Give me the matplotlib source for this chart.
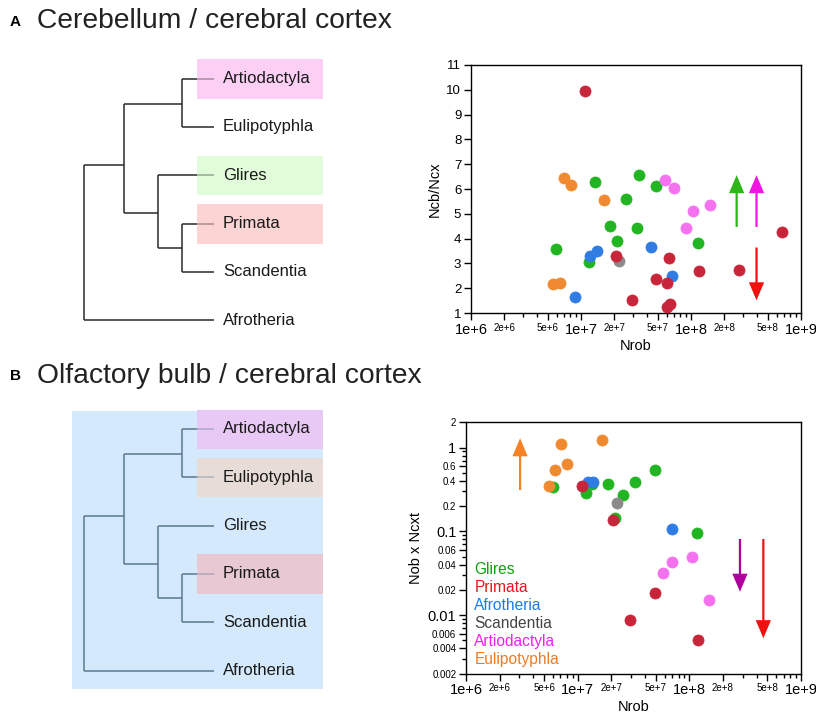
import matplotlib
matplotlib.use("Agg")
import matplotlib.pyplot as plt
import numpy as np
from matplotlib.patches import Rectangle
from matplotlib.ticker import FixedLocator, NullFormatter

plt.rcParams['font.family'] = ['Liberation Sans', 'DejaVu Sans']

# --- data ---
groups = ["Glires", "Primata", "Afrotheria", "Scandentia", "Artiodactyla", "Eulipotyphla"]
dot_colors = {"Glires": "#22b522", "Primata": "#c8253a", "Afrotheria": "#2f7de3",
              "Scandentia": "#8a8a8a", "Artiodactyla": "#f472f0", "Eulipotyphla": "#f08a30"}
text_colors = {"Glires": "#119e11", "Primata": "#e8141e", "Afrotheria": "#1f78ee",
               "Scandentia": "#444444", "Artiodactyla": "#f020ee", "Eulipotyphla": "#f07a22"}

# panel A: Nrob vs Ncb/Ncx
cb_nrob = {
    "Primata": [1.08e7, 2.06e7, 6.36e7, 4.81e7, 6.0e7, 2.91e7, 6.0e7, 6.4e7, 1.19e8, 2.71e8, 6.74e8],
    "Glires": [5.96e6, 1.19e7, 1.33e7, 1.82e7, 2.14e7, 2.57e7, 3.24e7, 3.35e7, 4.78e7, 1.16e8],
    "Afrotheria": [8.9e6, 1.22e7, 1.39e7, 4.34e7, 6.76e7],
    "Scandentia": [2.2e7],
    "Artiodactyla": [5.77e7, 7.02e7, 9.0e7, 1.04e8, 1.48e8],
    "Eulipotyphla": [7.03e6, 8.09e6, 1.63e7, 5.55e6, 6.38e6],
}
cb_ratio = {
    "Primata": [9.95, 3.31, 3.23, 2.37, 2.22, 1.51, 1.24, 1.38, 2.70, 2.75, 4.26],
    "Glires": [3.60, 3.05, 6.28, 4.50, 3.89, 5.58, 4.41, 6.57, 6.11, 3.83],
    "Afrotheria": [1.63, 3.31, 3.48, 3.66, 2.49],
    "Scandentia": [3.10],
    "Artiodactyla": [6.37, 6.05, 4.42, 5.13, 5.35],
    "Eulipotyphla": [6.46, 6.17, 5.55, 2.17, 2.20],
}

# panel B: Nrob vs Nob x Ncxt
ob_nrob = {
    "Eulipotyphla": [5.5e6, 6.22e6, 7.1e6, 8.0e6, 1.64e7],
    "Glires": [6.05e6, 1.18e7, 1.35e7, 1.85e7, 2.56e7, 3.26e7, 4.93e7, 2.16e7, 1.16e8],
    "Afrotheria": [1.23e7, 1.36e7, 6.95e7],
    "Primata": [1.09e7, 2.06e7, 4.93e7, 2.92e7, 1.2e8],
    "Scandentia": [2.23e7],
    "Artiodactyla": [5.85e7, 7.05e7, 1.05e8, 1.49e8],
}
ob_val = {
    "Eulipotyphla": [0.347, 0.54, 1.09, 0.637, 1.23],
    "Glires": [0.341, 0.284, 0.364, 0.367, 0.272, 0.385, 0.54, 0.143, 0.0964],
    "Afrotheria": [0.392, 0.385, 0.107],
    "Primata": [0.351, 0.137, 0.0185, 0.0088, 0.0051],
    "Scandentia": [0.216],
    "Artiodactyla": [0.032, 0.0435, 0.0498, 0.0151],
}
draw_order_a = ["Eulipotyphla", "Glires", "Afrotheria", "Scandentia", "Primata", "Artiodactyla"]
draw_order_b = ["Glires", "Afrotheria", "Scandentia", "Primata", "Eulipotyphla", "Artiodactyla"]

# arrows: (x, y_tail, y_head, colour)
arrows_a = [(2.6e8, 4.47, 6.56, "#2eb51a"), (3.94e8, 4.47, 6.56, "#ee16e0"), (3.94e8, 3.64, 1.51, "#f01010")]
arrows_b = [(3.05e6, 0.311, 1.29, "#f58225"), (2.84e8, 0.081, 0.019, "#b0009e"), (4.6e8, 0.081, 0.0053, "#f01010")]

leaves = ["Artiodactyla", "Eulipotyphla", "Glires", "Primata", "Scandentia", "Afrotheria"]
hl_a = {"Artiodactyla": "#fcd0f4", "Glires": "#e0fcd8", "Primata": "#fcd4d4"}
hl_b = {"Artiodactyla": "#e8c8f4", "Eulipotyphla": "#e8dcd6", "Primata": "#e8c8d2"}

x_major = [1e6, 1e7, 1e8, 1e9]
x_small = [2e6, 5e6, 2e7, 5e7, 2e8, 5e8]


fig = plt.figure(figsize=(8.16, 7.16), dpi=100)

# background axes in pixel coordinates for titles and trees
bg = fig.add_axes([0, 0, 1, 1])
bg.set_xlim(0, 816)
bg.set_ylim(716, 0)
bg.axis("off")


def draw_tree(y0, line_col, highlights, blue_box=False):
    step = 48.3
    ys = [y0 + i * step for i in range(len(leaves))]
    if blue_box:
        bg.add_patch(Rectangle((71.7, y0 - 18.3), 251.6, 278.6, color="#d4eafc", lw=0, zorder=0))
    xr, x1, x2, x3, xe = 84.3, 123.7, 158.3, 182.3, 214
    ae, ps, g, big = y0 + 25, y0 + 169, y0 + 134.5, y0 + 86.5
    segs = [
        ([x3, xe], [ys[0], ys[0]]), ([x3, xe], [ys[1], ys[1]]), ([x3, x3], [ys[0], ys[1]]),
        ([x3, xe], [ys[3], ys[3]]), ([x3, xe], [ys[4], ys[4]]), ([x3, x3], [ys[3], ys[4]]),
        ([x2, xe], [ys[2], ys[2]]), ([x2, x3], [ps, ps]), ([x2, x2], [ys[2], ps]),
        ([x1, x3], [ae, ae]), ([x1, x2], [g, g]), ([x1, x1], [ae, g]),
        ([xr, x1], [big, big]), ([xr, xe], [ys[5], ys[5]]), ([xr, xr], [big, ys[5]]),
    ]
    for sx, sy in segs:
        bg.plot(sx, sy, color=line_col, lw=1.1, zorder=2, solid_capstyle="butt")
    for name, y in zip(leaves, ys):
        if name in highlights:
            # opaque box under the tree, a faint copy over it to wash out the line end
            bg.add_patch(Rectangle((197, y - 19.5), 125.7, 39.5, color=highlights[name], lw=0, zorder=1))
            bg.add_patch(Rectangle((197, y - 19.5), 125.7, 39.5, color=highlights[name],
                                   alpha=0.6, lw=0, zorder=3))
        bg.text(223, y, name, fontsize=12, va="center", ha="left", color="#1a1a1a", zorder=4)


draw_tree(78.7, "#2a2a2a", hl_a)
draw_tree(429.0, "#5a7890", hl_b, blue_box=True)

bg.text(10, 22, "A", fontsize=11, fontweight="bold", va="center", ha="left")
bg.text(37, 21, "Cerebellum / cerebral cortex", fontsize=20.3, va="center", ha="left", color="#222222")
bg.text(10, 376, "B", fontsize=11, fontweight="bold", va="center", ha="left")
bg.text(37, 376, "Olfactory bulb / cerebral cortex", fontsize=20.3, va="center", ha="left", color="#222222")


def setup_xaxis(ax):
    ax.set_xscale("log")
    ax.set_xlim(1e6, 1e9)
    minors = [m * 10 ** e for e in range(6, 9) for m in range(2, 10)]
    ax.xaxis.set_major_locator(FixedLocator(x_major + x_small))
    ax.xaxis.set_minor_locator(FixedLocator([m for m in minors if m not in x_small]))
    ax.xaxis.set_minor_formatter(NullFormatter())
    labels = []
    for v in x_major + x_small:
        e = int(np.floor(np.log10(v) + 1e-9))
        labels.append("%de+%d" % (round(v / 10 ** e), e))
    ax.set_xticklabels(labels)
    for lab, v in zip(ax.get_xticklabels(), x_major + x_small):
        lab.set_fontsize(10.5 if v in x_major else 7)
    ax.tick_params(axis="x", which="major", length=5, width=1, pad=2)
    ax.tick_params(axis="x", which="minor", length=3, width=1)
    ax.set_xlabel("Nrob", fontsize=10.5, labelpad=2)
    for sp in ax.spines.values():
        sp.set_linewidth(1.0)


def add_arrows(ax, arrows):
    for x, yt, yh, c in arrows:
        ax.annotate("", xy=(x, yh), xytext=(x, yt),
                    arrowprops=dict(width=1.6, headwidth=11, headlength=13, shrink=0, color=c, lw=0))


# panel A scatter
ax1 = fig.add_axes([471 / 816, 1 - 313 / 716, 330 / 816, 248 / 716])
for grp in draw_order_a:
    ax1.scatter(cb_nrob[grp], cb_ratio[grp], s=64, color=dot_colors[grp], edgecolor=dot_colors[grp],
                linewidths=0.5, zorder=3)
setup_xaxis(ax1)
ax1.set_ylim(1, 11)
ax1.set_yticks(range(1, 12))
ax1.tick_params(axis="y", labelsize=9.5, length=5, width=1, pad=2)
ax1.set_ylabel("Ncb/Ncx", fontsize=10.5, labelpad=3)
add_arrows(ax1, arrows_a)

# panel B scatter
ax2 = fig.add_axes([466 / 816, 1 - 673.7 / 716, 335 / 816, 251.4 / 716])
for grp in draw_order_b:
    ax2.scatter(ob_nrob[grp], ob_val[grp], s=64, color=dot_colors[grp], edgecolor=dot_colors[grp],
                linewidths=0.5, zorder=3)
setup_xaxis(ax2)
ax2.set_yscale("log")
ax2.set_ylim(0.002, 2)
y_major = [0.01, 0.1, 1]
y_small = [0.002, 0.004, 0.006, 0.02, 0.04, 0.06, 0.2, 0.4, 0.6, 2]
ax2.yaxis.set_major_locator(FixedLocator(y_major + y_small))
ax2.yaxis.set_minor_locator(FixedLocator([m * 10 ** e for e in range(-3, 0) for m in (3, 5, 7, 8, 9)]))
ax2.yaxis.set_minor_formatter(NullFormatter())
ax2.set_yticklabels(["%g" % v for v in y_major + y_small])
for lab, v in zip(ax2.get_yticklabels(), y_major + y_small):
    lab.set_fontsize(10.5 if v in y_major else 7)
ax2.tick_params(axis="y", which="major", length=5, width=1, pad=2)
ax2.tick_params(axis="y", which="minor", length=3, width=1)
ax2.set_ylabel("Nob x Ncxt", fontsize=10.5, labelpad=3)
add_arrows(ax2, arrows_b)

for i, grp in enumerate(groups):
    ax2.text(0.025, 0.415 - i * 0.072, grp, transform=ax2.transAxes, color=text_colors[grp],
             fontsize=11.2, va="center", ha="left")

fig.savefig("out.png", dpi=100)
